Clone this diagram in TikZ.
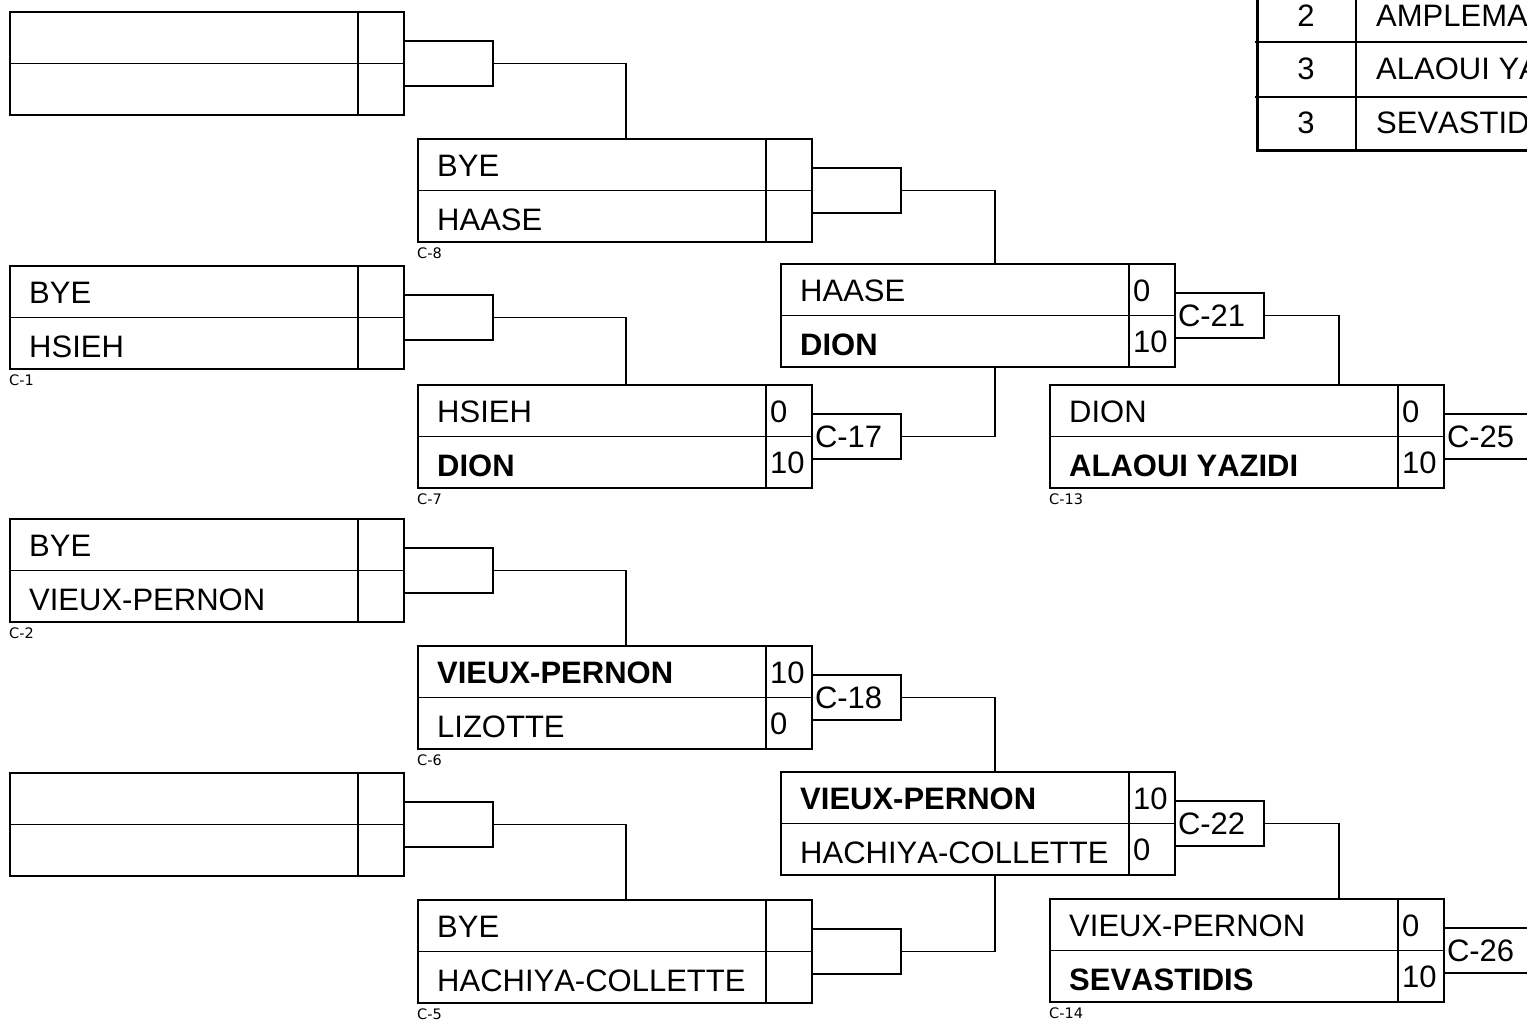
\documentclass[tikz,border=0pt]{standalone}
\usepackage{fontspec}
\setmainfont[Kerning=Off]{Liberation Sans}
\newfontfamily\capfont{DejaVu Sans}
\usetikzlibrary{positioning,calc}

% one bout of the draw: name, x, y, top player, bottom player, scores, caption
\newcommand{\bout}[8]{%
  \node[slot] (#1) at (#2,#3) {};
  \draw[rule] (#1.west) -- (#1.east);
  \path (#1.north east) ++(-46,0) coordinate (#1-d);
  \draw[rule] (#1-d) -- (#1-d |- #1.south);
  \path (#1.north west) ++(19,37) node[player] (#1-p1) {#4};
  \path (#1.north west) ++(19,91) node[player] (#1-p2) {#5};
  \path (#1-d) ++(4,37) node[player] (#1-s1) {#6};
  \path (#1-d) ++(4,88) node[player] (#1-s2) {#7};
  \path (#1.south west) ++(-1,6) node[tag] (#1-c) {#8};
}

\begin{document}
\begin{tikzpicture}[x=1pt, y=-1pt, line cap=rect,
  rule/.style={line width=1.6pt},
  frame/.style={line width=3pt},
  slot/.style={draw, line width=1.6pt, anchor=north west, outer sep=0pt,
    inner sep=0pt, minimum width=394pt, minimum height=103pt},
  player/.style={anchor=base west, inner sep=0pt,
    font=\fontsize{31}{36}\selectfont},
  tag/.style={anchor=north west, inner sep=0pt,
    font=\capfont\fontsize{14.5}{17}\selectfont},
  link/.style={draw, line width=1.6pt, anchor=west, outer sep=0pt,
    minimum height=45pt, text width=83pt, inner xsep=3pt, inner ysep=0pt,
    align=left, font=\fontsize{31}{36}\selectfont}]
\useasboundingbox (0,0) rectangle (1527,1025);
\clip (0,0) rectangle (1527,1025);
% ---- first round ----
\bout{e1}{10}{12}{}{}{}{}{}
\bout{c1}{10}{266}{BYE}{HSIEH}{}{}{C-1}
\bout{c2}{10}{519}{BYE}{VIEUX-PERNON}{}{}{C-2}
\bout{e2}{10}{773}{}{}{}{}{}
\node[link] (ke1) at (e1.east) {};
\node[link] (k1) at (c1.east) {};
\node[link] (k2) at (c2.east) {};
\node[link] (ke2) at (e2.east) {};
% ---- second round ----
\bout{c8}{418}{139}{BYE}{HAASE}{}{}{C-8}
\bout{c7}{418}{385}{HSIEH}{\textbf{DION}}{0}{10}{C-7}
\bout{c6}{418}{646}{\textbf{VIEUX-PERNON}}{LIZOTTE}{10}{0}{C-6}
\bout{c5}{418}{900}{BYE}{HACHIYA-COLLETTE}{}{}{C-5}
\draw[rule] (ke1.east) -| ($(c8.north west)+(208,0)$);
\draw[rule] (k1.east) -| ($(c7.north west)+(208,0)$);
\draw[rule] (k2.east) -| ($(c6.north west)+(208,0)$);
\draw[rule] (ke2.east) -| ($(c5.north west)+(208,0)$);
\node[link] (k8) at (c8.east) {};
\node[link] (k17) at (c7.east) {C-17};
\node[link] (k18) at (c6.east) {C-18};
\node[link] (k5) at (c5.east) {};
% ---- third round ----
\bout{q21}{781}{264}{HAASE}{\textbf{DION}}{0}{10}{}
\bout{q22}{781}{772}{\textbf{VIEUX-PERNON}}{HACHIYA-COLLETTE}{10}{0}{}
\draw[rule] (k8.east) -| ($(q21.north west)+(214,0)$);
\draw[rule] (k17.east) -| ($(q21.south west)+(214,0)$);
\draw[rule] (k18.east) -| ($(q22.north west)+(214,0)$);
\draw[rule] (k5.east) -| ($(q22.south west)+(214,0)$);
\node[link] (k21) at (q21.east) {C-21};
\node[link] (k22) at (q22.east) {C-22};
% ---- fourth round ----
\bout{c13}{1050}{385}{DION}{\textbf{ALAOUI YAZIDI}}{0}{10}{C-13}
\bout{c14}{1050}{899}{VIEUX-PERNON}{\textbf{SEVASTIDIS}}{0}{10}{C-14}
\draw[rule] (k21.east) -| ($(c13.north west)+(289,0)$);
\draw[rule] (k22.east) -| ($(c14.north west)+(289,0)$);
\node[link] (k25) at (c13.east) {C-25};
\node[link] (k26) at (c14.east) {C-26};
% ---- ranking table (top right) ----
\draw[rule] (1356,-20) -- (1356,150);
\draw[rule] (1256,42) -- (1600,42);
\draw[rule] (1256,97) -- (1600,97);
\draw[frame] (1257,-20) rectangle (1600,150);
\node[player, anchor=base] (t1) at (1306,27) {2};
\node[player, anchor=base] (t2) at (1306,80) {3};
\node[player, anchor=base] (t3) at (1306,133) {3};
\node[player] (n1) at (1376,27) {AMPLEMAN};
\node[player] (n2) at (1376,80) {ALAOUI YAZIDI};
\node[player] (n3) at (1376,133) {SEVASTIDIS};
\end{tikzpicture}
\end{document}
